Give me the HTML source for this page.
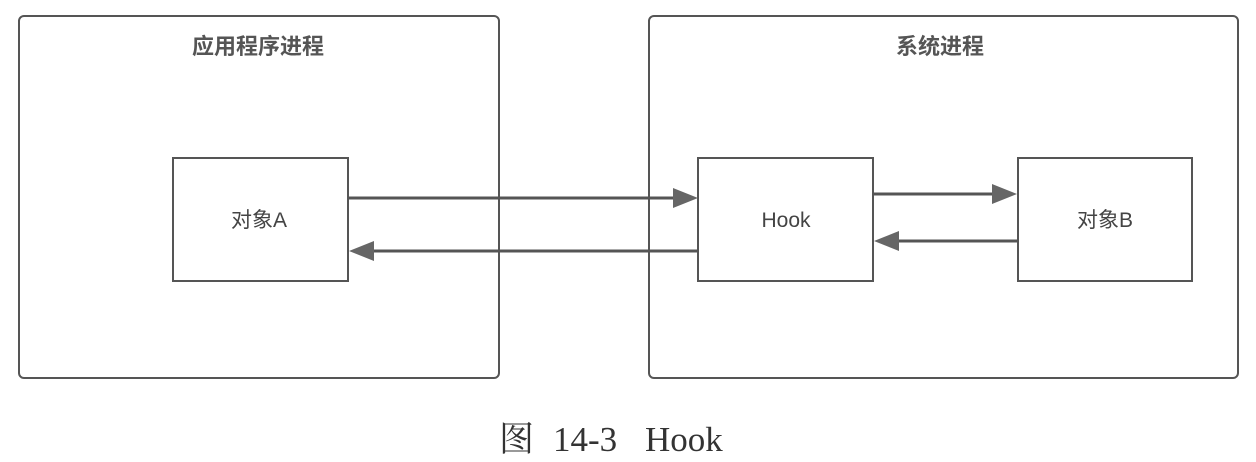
<!DOCTYPE html>
<html><head><meta charset="utf-8"><style>
html,body{margin:0;padding:0;background:#fff;width:1256px;height:462px;overflow:hidden}
</style></head><body>
<svg width="1256" height="462" xmlns="http://www.w3.org/2000/svg">
<g fill="none" stroke="#555" stroke-width="2">
<rect x="19" y="16" width="480" height="362" rx="5"/>
<rect x="649" y="16" width="589" height="362" rx="5"/>
<rect x="173" y="158" width="175" height="123" fill="#fff"/>
<rect x="698" y="158" width="175" height="123" fill="#fff"/>
<rect x="1018" y="158" width="174" height="123" fill="#fff"/>
<line x1="348" y1="198" x2="675" y2="198" stroke-width="3"/>
<line x1="372" y1="251" x2="698" y2="251" stroke-width="3"/>
<line x1="873" y1="194" x2="995" y2="194" stroke-width="3"/>
<line x1="896" y1="241" x2="1018" y2="241" stroke-width="3"/>
</g>
<g fill="#666">
<polygon points="698,198 673,188 673,208"/>
<polygon points="349,251 374,241 374,261"/>
<polygon points="1017,194 992,184 992,204"/>
<polygon points="874,241 899,231 899,251"/>
</g>
<g font-family="'Liberation Sans','Noto Sans CJK SC',sans-serif" fill="#444" text-anchor="middle">
<text x="258" y="54" font-size="22" font-weight="bold" fill="#555">应用程序进程</text>
<text x="940" y="54" font-size="22" font-weight="bold" fill="#555">系统进程</text>
<text x="259" y="227" font-size="21">对象A</text>
<text x="786" y="227" font-size="21">Hook</text>
<text x="1105" y="227" font-size="21">对象B</text>
</g>
<g font-family="'Liberation Serif','Noto Serif CJK SC',serif" font-size="35" fill="#333">
<text x="499" y="451">图</text>
<text x="553" y="451">14-3</text>
<text x="645" y="451">Hook</text>
</g>
</svg>
</body></html>
